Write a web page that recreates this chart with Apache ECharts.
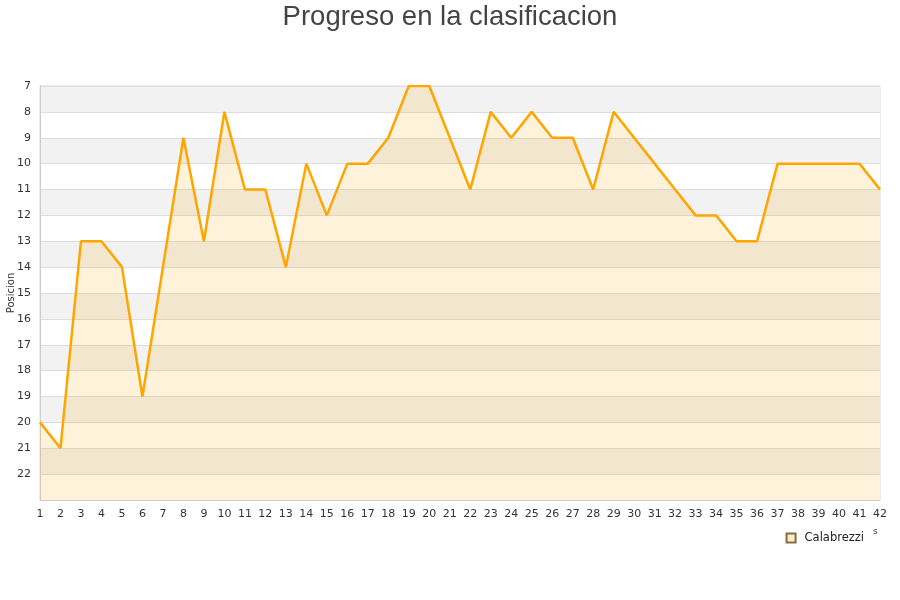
<!DOCTYPE html>
<html>
<head>
<meta charset="utf-8">
<script src="https://cdn.jsdelivr.net/npm/echarts@6/dist/echarts.min.js"></script>
<style>
html,body{margin:0;padding:0;background:#fff;}
#chart{width:900px;height:600px;}
</style>
</head>
<body>
<div id="chart"></div>
<script>
var jornadas = [];
for (var j = 1; j <= 42; j++) { jornadas.push(String(j)); }
var posiciones = [20, 21, 13, 13, 14, 19, 14, 9, 13, 8,
                  11, 11, 14, 10, 12, 10, 10, 9, 7, 7,
                  9, 11, 8, 9, 8, 9, 9, 11, 8, 9,
                  10, 11, 12, 12, 13, 13, 10, 10, 10, 10,
                  10, 11];
var equipo = 'Calabrezzi';
var titulo = 'Progreso en la clasificacion';

var chart = echarts.init(document.getElementById('chart'));
var option = {
	animation: false,
	title: {
		text: titulo,
		left: 'center',
		top: -2,
		textStyle: {fontFamily: 'Liberation Sans', fontSize: 27.5, fontWeight: 'normal', color: '#444'}
	},
	legend: {
		data: [equipo],
		right: 31,
		top: 527,
		icon: 'rect',
		itemWidth: 9,
		itemHeight: 9,
		textStyle: {fontFamily: 'DejaVu Sans', fontSize: 11.5, color: '#222', padding: [0, 0, 0, 4]}
	},
	grid: {
		left: 40, right: 20, top: 86, bottom: 100,
		outerBoundsMode: 'none', containLabel: false,
		show: true, borderColor: '#dddddd', borderWidth: 1
	},
	graphic: [{
		type: 'text', left: 873, top: 527,
		style: {text: 's', fontFamily: 'DejaVu Sans', fontSize: 9, fill: '#444'}
	}],
	xAxis: {
		type: 'category',
		data: jornadas,
		boundaryGap: false,
		axisLine: {lineStyle: {color: '#cccccc'}},
		axisTick: {show: false},
		axisLabel: {fontFamily: 'DejaVu Sans', fontSize: 11, color: '#333', margin: 9, interval: 0}
	},
	yAxis: {
		type: 'value',
		inverse: true,
		min: 7, max: 23, interval: 1,
		name: 'Posicion',
		nameLocation: 'middle',
		nameGap: 24,
		nameMoveOverlap: false,
		nameTextStyle: {fontFamily: 'DejaVu Sans', fontSize: 10, color: '#333'},
		axisLine: {show: true, lineStyle: {color: '#cccccc'}},
		axisTick: {show: false},
		axisLabel: {
			fontFamily: 'DejaVu Sans', fontSize: 11, color: '#333', margin: 9,
			formatter: function(v){ return v == 23 ? '' : v; }
		},
		splitLine: {lineStyle: {color: '#dddddd'}},
		splitArea: {show: true, areaStyle: {color: ['#f2f2f2', '#ffffff']}}
	},
	series: [{
		name: equipo,
		type: 'line',
		data: posiciones,
		symbol: 'none',
		lineStyle: {color: '#ffa500', width: 2.5},
		itemStyle: {color: '#ffedcc', borderColor: '#8a6a3a', borderWidth: 1},
		areaStyle: {color: 'rgba(255,165,0,0.2)', origin: 'end'}
	}]
};
chart.setOption(option);
</script>
</body>
</html>
